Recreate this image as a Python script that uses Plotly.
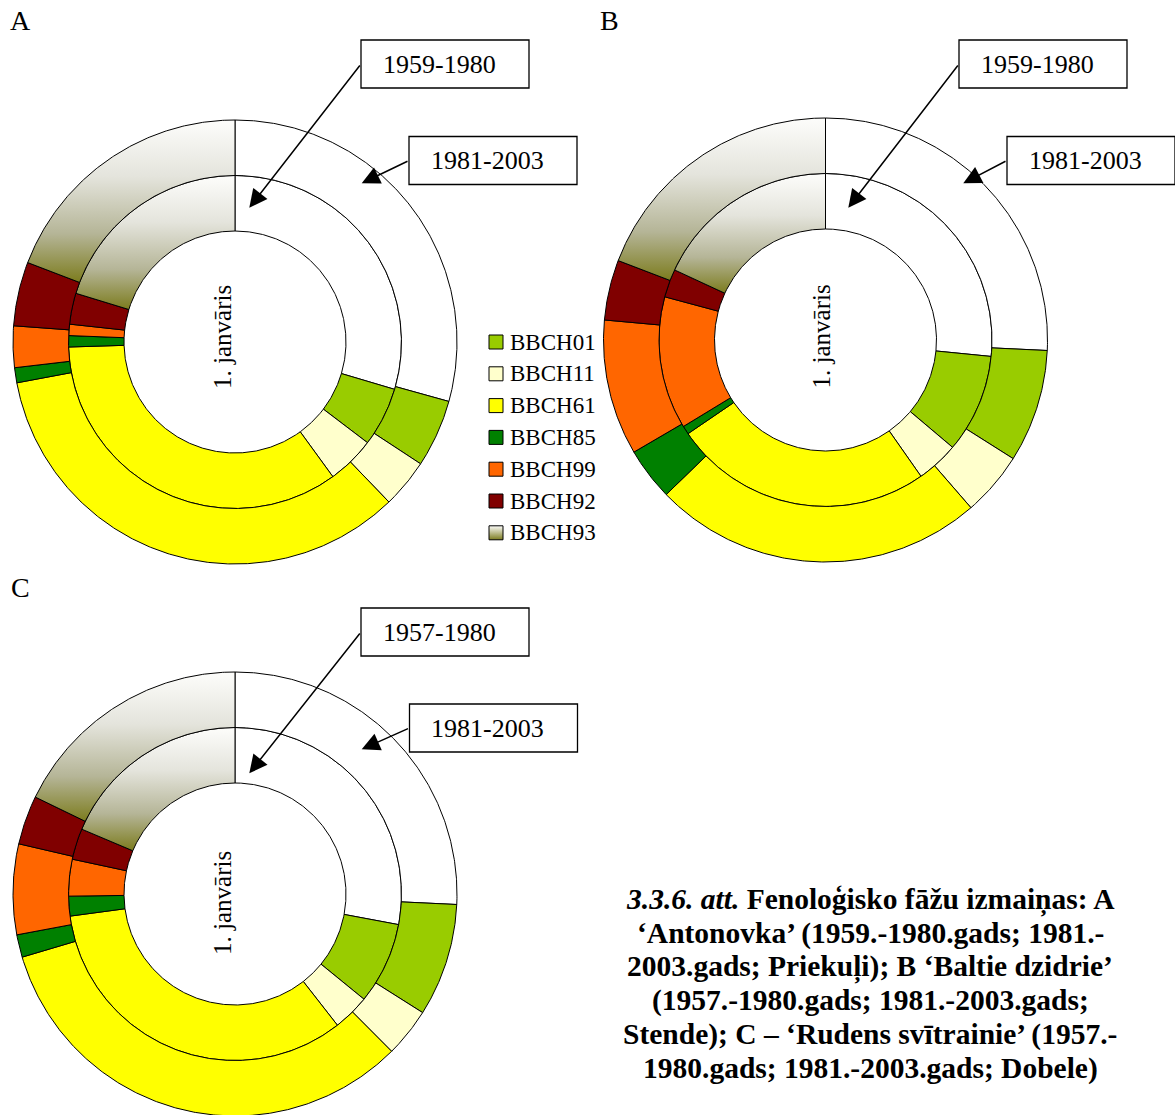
import numpy as np
import plotly.graph_objects as go

W, H = 1175, 1115

# Phenological phases in ring order (clockwise from 1 January)
phases = ["BBCH01", "BBCH11", "BBCH61", "BBCH85", "BBCH99", "BBCH92", "BBCH93"]
phase_colors = {
    "BBCH01": "#99CC00",
    "BBCH11": "#FFFFCC",
    "BBCH61": "#FFFF00",
    "BBCH85": "#008000",
    "BBCH99": "#FF6600",
    "BBCH92": "#800000",
}
rest_color = "#FFFFFF"
# olive at the bottom of the slice, fading to white at its top
bbch93_scale = [[0.0, "#7C7C1E"], [0.3, "#B5B597"], [0.65, "#E4E4DC"], [1.0, "#FDFDFB"]]

# Days: 1 January -> BBCH01 start, then the duration of each phase (each ring sums to 365)
a_1959_1980 = [108, 21, 17, 126, 4, 4, 11, 74]
a_1981_2003 = [107, 18, 13, 125, 4, 11, 17, 70]
b_1959_1980 = [97, 35, 15, 92, 3, 47, 10, 66]
b_1981_2003 = [94, 30, 17, 88, 14, 36, 16, 70]
c_1957_1980 = [102, 29, 13, 122, 7, 13, 11, 68]
c_1981_2003 = [94, 30, 13, 120, 6, 24, 13, 65]

panel_letters = ["A", "B", "C"]
inner_periods = ["1959-1980", "1959-1980", "1957-1980"]
outer_periods = ["1981-2003", "1981-2003", "1981-2003"]
inner_rings = [a_1959_1980, b_1959_1980, c_1957_1980]
outer_rings = [a_1981_2003, b_1981_2003, c_1981_2003]
center_text = "1. janvāris"

caption_lines = [
    "<b><i>3.3.6. att.</i> Fenoloģisko fāžu izmaiņas: A</b>",
    "<b>‘Antonovka’ (1959.-1980.gads; 1981.-</b>",
    "<b>2003.gads; Priekuļi); B ‘Baltie dzidrie’</b>",
    "<b>(1957.-1980.gads; 1981.-2003.gads;</b>",
    "<b>Stende); C – ‘Rudens svītrainie’ (1957.-</b>",
    "<b>1980.gads; 1981.-2003.gads; Dobele)</b>",
]

# ---- layout geometry (pixels, y downward) ----
FONT = "Liberation Serif, Times New Roman, serif"
R = 222.0
HOLE, MID = 0.5, 0.75
centers = [(235.0, 342.0), (825.5, 340.0), (235.0, 894.0)]
label_pos = [(20.5, 20.0), (609.5, 20.0), (20.5, 587.0)]
center_text_shift = [(-13, -5), (-4.5, -3.5), (-13, 9)]
box_w, box_h = 168.0, 48.0
inner_box = [(445.0, 64.0), (1043.0, 64.0), (445.0, 632.0)]
outer_box = [(493.0, 160.5), (1091.0, 160.5), (493.5, 728.0)]
inner_tip = [(249.3, 207.7), (848.3, 207.7), (249.3, 773.3)]
outer_tip = [(361.7, 183.3), (963.3, 183.3), (361.7, 749.3)]


def sector(cx, cy, r0, r1, a0, a1):
    n = max(3, int(abs(a1 - a0) / 0.4) + 2)
    t = np.radians(np.linspace(a0, a1, n))
    xo, yo = cx + r1 * np.sin(t), cy - r1 * np.cos(t)
    ti = t[::-1]
    xi, yi = cx + r0 * np.sin(ti), cy - r0 * np.cos(ti)
    x = np.concatenate([xo, xi, xo[:1]])
    y = np.concatenate([yo, yi, yo[:1]])
    return x, y


fig = go.Figure()


def add_ring(cx, cy, r0, r1, days):
    names = ["rest"] + phases
    cum = np.concatenate([[0], np.cumsum(days)])
    total = cum[-1]
    for i, name in enumerate(names):
        a0 = cum[i] / total * 360.0
        a1 = cum[i + 1] / total * 360.0
        x, y = sector(cx, cy, r0, r1, a0, a1)
        kw = dict(x=x, y=y, mode="lines", fill="toself",
                  line=dict(color="black", width=1), showlegend=False,
                  hoverinfo="skip")
        if name == "BBCH93":
            kw["fillgradient"] = dict(type="vertical", colorscale=bbch93_scale)
        elif name == "rest":
            kw["fillcolor"] = rest_color
        else:
            kw["fillcolor"] = phase_colors[name]
        fig.add_trace(go.Scatter(**kw))


annotations = []
shapes = []
for k in range(3):
    cx, cy = centers[k]
    add_ring(cx, cy, HOLE * R, MID * R, inner_rings[k])
    add_ring(cx, cy, MID * R, R, outer_rings[k])

    annotations.append(dict(x=label_pos[k][0], y=label_pos[k][1], text=panel_letters[k],
                            showarrow=False, font=dict(family=FONT, size=28, color="black")))
    dx, dy = center_text_shift[k]
    annotations.append(dict(x=cx + dx, y=cy + dy, text=center_text, textangle=-90,
                            showarrow=False, font=dict(family=FONT, size=25, color="black")))

    for (bx, by), tip, txt in ((inner_box[k], inner_tip[k], inner_periods[k]),
                               (outer_box[k], outer_tip[k], outer_periods[k])):
        shapes.append(dict(type="rect", xref="x", yref="y",
                           x0=bx - box_w / 2, x1=bx + box_w / 2,
                           y0=by - box_h / 2, y1=by + box_h / 2,
                           line=dict(color="black", width=1.3), fillcolor="white",
                           layer="above"))
        annotations.append(dict(x=bx - 6, y=by, text=txt, showarrow=False,
                                font=dict(family=FONT, size=26, color="black")))
        annotations.append(dict(x=tip[0], y=tip[1], ax=bx - box_w / 2, ay=by,
                                axref="x", ayref="y", text="", showarrow=True,
                                arrowhead=2, arrowsize=2.4, arrowwidth=1.5,
                                arrowcolor="black"))

# legend
leg_x, leg_y0, leg_dy = 496.0, 342.0, 31.8
for i, name in enumerate(phases):
    yy = leg_y0 + i * leg_dy
    if name == "BBCH93":
        marker = dict(symbol="square", size=14, color="#FDFDFB",
                      gradient=dict(type="vertical", color="#7C7C1E"),
                      line=dict(color="black", width=1))
    else:
        marker = dict(symbol="square", size=14, color=phase_colors[name],
                      line=dict(color="black", width=1))
    fig.add_trace(go.Scatter(x=[leg_x], y=[yy], mode="markers", marker=marker,
                             showlegend=False, hoverinfo="skip"))
    annotations.append(dict(x=leg_x + 12, y=yy, text=name, xanchor="left", showarrow=False,
                            font=dict(family=FONT, size=23, color="black")))

# caption
for i, line in enumerate(caption_lines):
    annotations.append(dict(x=870, y=900 + i * 33.6, text=line, showarrow=False,
                            font=dict(family=FONT, size=29.5, color="black")))

fig.update_layout(
    width=W, height=H,
    margin=dict(l=0, r=0, t=0, b=0),
    paper_bgcolor="white", plot_bgcolor="white",
    xaxis=dict(range=[0, W], visible=False, fixedrange=True),
    yaxis=dict(range=[H, 0], visible=False, fixedrange=True),
    annotations=annotations,
    shapes=shapes,
    showlegend=False,
)

fig.write_html("out.html")
